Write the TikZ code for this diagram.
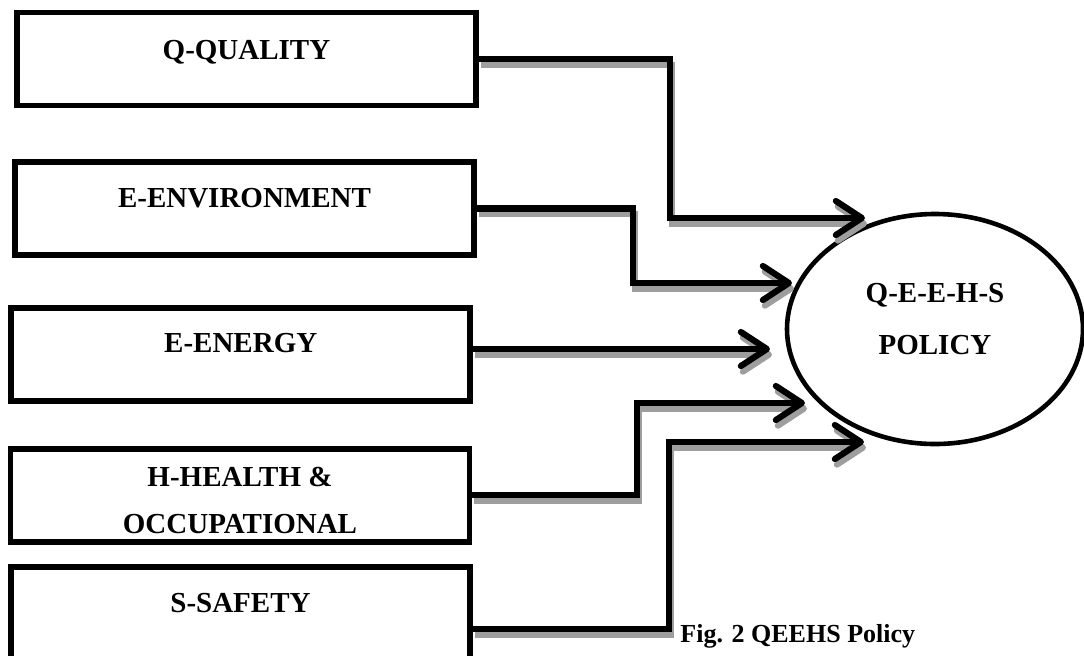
\documentclass[tikz,border=0pt]{standalone}
\usepackage{fontspec}
\setmainfont{Liberation Serif}
\usetikzlibrary{positioning,shapes.geometric,arrows.meta}

\tikzset{
	policybox/.style={draw, line width=2.8pt, minimum width=229.5pt, minimum height=46.5pt, inner sep=0pt},
	boxlabel/.style={align=center, inner sep=0pt, font=\fontsize{14.5}{23.5}\selectfont\bfseries},
	flowarrow/.style={line width=3.1pt, -{Straight Barb[length=13pt,width=17pt,round]},
		preaction={draw=black!38, line width=3.1pt, transform canvas={xshift=1pt, yshift=-2.8pt}}}
}

\begin{document}
\begin{tikzpicture}[x=0.5pt, y=-0.5pt]
	\useasboundingbox (0,0) rectangle (1084,655);
	\clip (0,0) rectangle (1084,655);

	\node [policybox] (qual) at (246.5,59) {};
	\node [policybox] (envi) at (244.5,208.5) {};
	\node [policybox] (ener) at (240.75,354.5) {};
	\node [policybox] (heal) at (240,495.25) {};
	\node [policybox] (safe) at (240.5,613.5) {};

	\node [boxlabel, below=15pt of qual.north] {Q-QUALITY};
	\node [boxlabel, below=14.5pt of envi.north] {E-ENVIRONMENT};
	\node [boxlabel, below=14pt of ener.north] {E-ENERGY};
	\node [boxlabel, below=10.5pt of heal.north] {H-HEALTH \&\\OCCUPATIONAL};
	\node [boxlabel, below=14.5pt of safe.north] {S-SAFETY};

	\node [draw, ellipse, line width=2.3pt, minimum width=148pt, minimum height=115pt] (pol) at (935,329) {};
	\node [boxlabel, font=\fontsize{14.5}{26}\selectfont\bfseries] (poltext) at ([yshift=5pt]pol.center) {Q-E-E-H-S\\POLICY};

	\coordinate (tq) at (865,218);
	\coordinate (tv) at (792,283);
	\coordinate (tn) at (770,349);
	\coordinate (th) at (805,403);
	\coordinate (ts) at (864,442);

	\draw [flowarrow] (qual.east) -- ++(191,0) |- (tq);
	\draw [flowarrow] (envi.east) -- ++(156,0) |- (tv);
	\draw [flowarrow] (ener.east |- tn) -- (tn);
	\draw [flowarrow] (heal.east) -- ++(165,0) |- (th);
	\draw [flowarrow] ([yshift=-7.75pt]safe.east) -- ++(196,0) |- (ts);

	\node [font=\fontsize{13}{15}\selectfont\bfseries, anchor=base west, inner sep=0pt] (caption) at (680,642) {Fig. 2 QEEHS Policy};
\end{tikzpicture}
\end{document}
